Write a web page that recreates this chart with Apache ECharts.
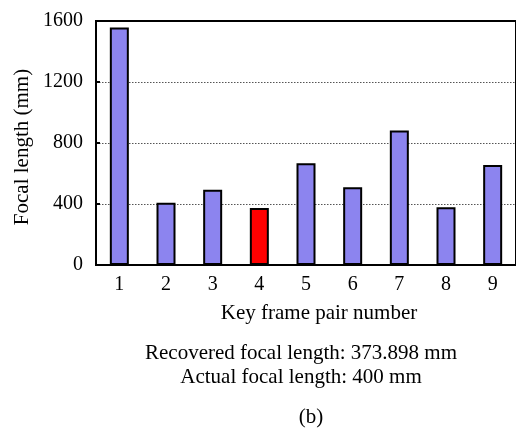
<!DOCTYPE html>
<html>
<head>
<meta charset="utf-8">
<script src="https://cdn.jsdelivr.net/npm/echarts@6/dist/echarts.min.js"></script>
<style>html,body{margin:0;padding:0;background:#fff;}#c{width:516px;height:431px;}</style>
</head>
<body>
<div id="c"></div>
<script>
const categories = ['1','2','3','4','5','6','7','8','9'];
const focalLengths = [1558, 408, 494, 374, 668, 510, 882, 378, 655];
const highlightIndex = 3;
const yTicks = [0, 400, 800, 1200, 1600];
const xAxisTitle = 'Key frame pair number';
const yAxisTitle = 'Focal length (mm)';
const captionLines = ['Recovered focal length: 373.898 mm', 'Actual focal length: 400 mm'];
const subLabel = '(b)';

const FONT = '"Liberation Serif", "Times New Roman", serif';
const chart = echarts.init(document.getElementById('c'), null, {renderer: 'canvas'});
const barData = focalLengths.map((v, i) => ({
  value: v,
  itemStyle: {color: i === highlightIndex ? '#ff0000' : '#8c84ef'}
}));
chart.setOption({
  animation: false,
  grid: {left: 96, top: 21, right: -2, bottom: 166, show: true, borderColor: '#000', borderWidth: 2, backgroundColor: 'transparent'},
  xAxis: {
    type: 'category', data: categories,
    axisLine: {lineStyle: {color: '#000', width: 2}},
    axisTick: {inside: true, length: 5, lineStyle: {color: '#000', width: 2}},
    axisLabel: {color: '#000', fontFamily: FONT, fontSize: 20, margin: 10}
  },
  yAxis: {
    type: 'value', min: yTicks[0], max: yTicks[yTicks.length - 1], interval: yTicks[1] - yTicks[0],
    axisLine: {show: true, lineStyle: {color: '#000', width: 2}},
    axisTick: {show: true, inside: true, length: 4, lineStyle: {color: '#000', width: 2}},
    axisLabel: {color: '#000', fontFamily: FONT, fontSize: 20, margin: 13, formatter: v => String(v)},
    splitLine: {show: true, lineStyle: {type: [1.5, 1.5], width: 1, color: yTicks.map((t, i) => (i === 0 || i === yTicks.length - 1) ? 'rgba(0,0,0,0)' : '#555')}}
  },
  series: [{
    type: 'bar', data: barData, barWidth: 19,
    itemStyle: {borderColor: '#000', borderWidth: 2}
  }],
  graphic: [
    {type: 'text', x: 22, y: 147, rotation: Math.PI / 2, style: {text: yAxisTitle, fontFamily: FONT, fontSize: 21, fill: '#000', align: 'center', verticalAlign: 'middle'}},
    {type: 'text', x: 319, y: 313, style: {text: xAxisTitle, fontFamily: FONT, fontSize: 21, fill: '#000', align: 'center', verticalAlign: 'middle'}},
    {type: 'text', x: 301, y: 353, style: {text: captionLines[0], fontFamily: FONT, fontSize: 21, fill: '#000', align: 'center', verticalAlign: 'middle'}},
    {type: 'text', x: 301, y: 377, style: {text: captionLines[1], fontFamily: FONT, fontSize: 21, fill: '#000', align: 'center', verticalAlign: 'middle'}},
    {type: 'text', x: 311, y: 417, style: {text: subLabel, fontFamily: FONT, fontSize: 21, fill: '#000', align: 'center', verticalAlign: 'middle'}}
  ]
});
</script>
</body>
</html>
